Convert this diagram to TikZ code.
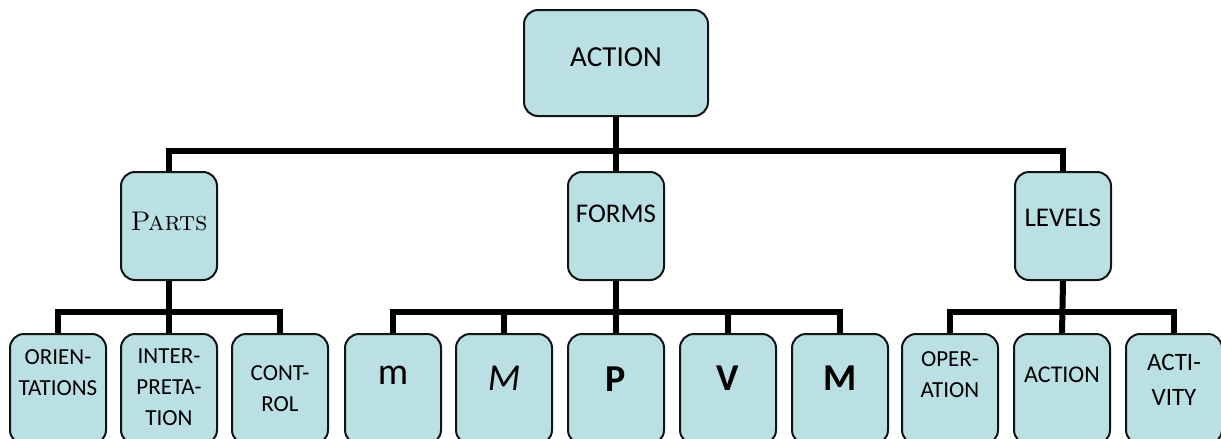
\documentclass[tikz,border=0pt]{standalone}
\usepackage{fontspec}
\setsansfont{Carlito}
\definecolor{boxfill}{RGB}{186,224,227}
\tikzset{
  wire/.style={line width=6pt},
  box/.style={draw=black!92, line width=2pt, fill=boxfill, rounded corners=14pt,
    inner sep=0pt, align=center},
  lift/.style={text depth=#1},
  topbox/.style={box, minimum width=184pt, minimum height=106pt,
    font=\sffamily\fontsize{29}{34}\selectfont},
  midbox/.style={box, minimum width=96pt, minimum height=108pt,
    font=\sffamily\fontsize{27}{32}\selectfont},
  lowbox/.style={box, minimum width=96pt, minimum height=110pt,
    font=\sffamily\fontsize{23}{31}\selectfont},
  letterbox/.style={lowbox, font=\sffamily\fontsize{38}{40}\selectfont}
}
\begin{document}
\begin{tikzpicture}[x=1pt, y=-1pt]
  \useasboundingbox (0,0) rectangle (1221,439);
  \clip (0,0) rectangle (1221,439);
  % top and second level
  \node [topbox, lift=12pt] (act)    at (616,63)  {ACTION};
  \node [midbox, lift=10pt, font=\rmfamily\fontsize{27}{32}\selectfont]
                            (parts)  at (169,226) {\textsc{Parts}};
  \node [midbox, lift=24pt] (forms)  at (616,226) {FORMS};
  \node [midbox, lift=16pt] (levels) at (1063,226) {LEVELS};
  % parts
  \node [lowbox, lift=32pt] (orient)  at (58,389)  {ORIEN-\\TATIONS};
  \node [lowbox, lift=4pt]  (interp)  at (169,389) {INTER-\\PRETA-\\TION};
  \node [lowbox]            (control) at (280,389) {CONT-\\ROL};
  % forms
  \node [letterbox, lift=28pt] (fm1) at (393,389) {m};
  \node [letterbox, lift=22pt] (fm2) at (504,389) {\itshape M};
  \node [letterbox, lift=20pt] (fm3) at (616,389) {\bfseries P};
  \node [letterbox, lift=22pt] (fm4) at (728,389) {\bfseries V};
  \node [letterbox, lift=22pt] (fm5) at (840,389) {\bfseries M};
  % levels
  \node [lowbox, lift=28pt] (oper)  at (950,389)  {OPER-\\ATION};
  \node [lowbox, lift=28pt, font=\sffamily\fontsize{24}{31}\selectfont]
                            (lact)  at (1062,389) {ACTION};
  \node [lowbox, lift=18pt, font=\sffamily\fontsize{25}{35}\selectfont]
                            (activ) at (1174,389) {ACTI-\\VITY};
  % connectors
  \coordinate (bus)  at (616,151);
  \coordinate (pbus) at (169,312);
  \coordinate (fbus) at (616,312);
  \coordinate (lbus) at (1062,312);
  \draw [wire] (act.south) -- (forms.north);
  \draw [wire] (parts.north) |- (bus) -| (levels.north);
  \draw [wire] (parts.south) -- (interp.north);
  \draw [wire] (orient.north) |- (pbus) -| (control.north);
  \draw [wire] (forms.south) -- (fm3.north);
  \draw [wire] (fm1.north) |- (fbus) -| (fm5.north);
  \draw [wire] (fm2.north) |- (fbus);
  \draw [wire] (fm4.north) |- (fbus);
  \draw [wire] (levels.south) -- (lact.north);
  \draw [wire] (oper.north) |- (lbus) -| (activ.north);
\end{tikzpicture}
\end{document}
